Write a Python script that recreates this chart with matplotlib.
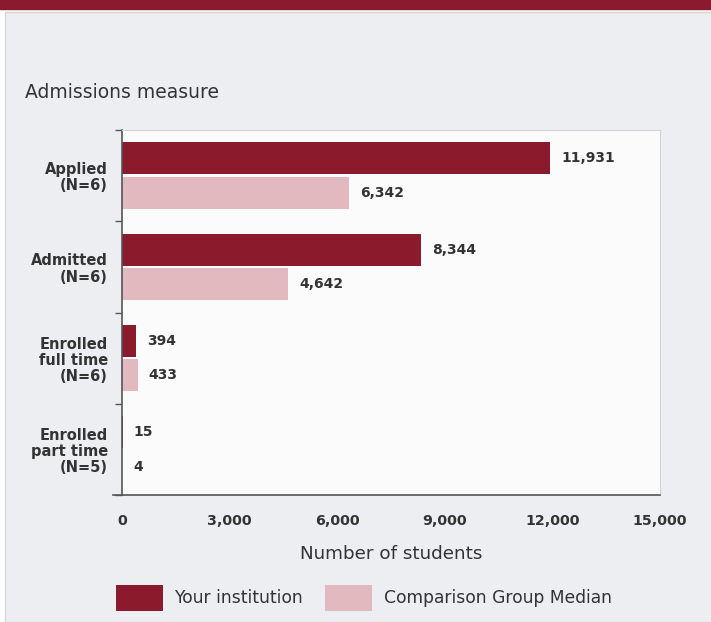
import matplotlib
matplotlib.use("Agg")
import matplotlib.pyplot as plt
import numpy as np
from matplotlib.patches import Rectangle

plt.rcParams['font.family'] = ['DejaVu Sans']

categories = ['Applied\n(N=6)', 'Admitted\n(N=6)', 'Enrolled\nfull time\n(N=6)', 'Enrolled\npart time\n(N=5)']
your_inst = [11931, 8344, 394, 15]
comp_median = [6342, 4642, 433, 4]
xticks = [0, 3000, 6000, 9000, 12000, 15000]

dark = '#8c1a2d'
light = '#e3b9c0'
text_col = '#333333'

fig = plt.figure(figsize=(7.11, 6.22), dpi=100)
fig.patch.set_facecolor('white')

# maroon band on top and the grey panel
fig.patches.append(Rectangle((0, 1 - 9/622), 1, 9/622, transform=fig.transFigure,
                             color='#8b1a2e', zorder=-10))
fig.patches.append(Rectangle((5/711, 0), 1, 1 - 12/622, transform=fig.transFigure,
                             facecolor='#eceef1', edgecolor='#d6d6d6', lw=1, zorder=-10))

ax = fig.add_axes([122/711, 1 - 495/622, 538/711, 365/622])
ax.set_facecolor('#fbfbfb')

y = np.arange(len(categories))
h = 0.35
off = 0.19
ax.barh(y - off, your_inst, height=h, color=dark, label='Your institution')
ax.barh(y + off, comp_median, height=h, color=light, label='Comparison Group Median')

for i in range(len(categories)):
    ax.annotate(f'{your_inst[i]:,}', (your_inst[i], y[i] - off), xytext=(8, 0),
                textcoords='offset points', va='center', ha='left',
                fontsize=10, fontweight='bold', color=text_col)
    ax.annotate(f'{comp_median[i]:,}', (comp_median[i], y[i] + off), xytext=(8, 0),
                textcoords='offset points', va='center', ha='left',
                fontsize=10, fontweight='bold', color=text_col)

ax.set_xlim(0, 15000)
ax.set_ylim(len(categories) - 0.5, -0.5)
ax.set_xticks(xticks)
ax.set_xticklabels([f'{v:,}' for v in xticks], fontsize=10.2, fontweight='bold', color=text_col)
ax.tick_params(axis='x', length=0, pad=14)

ax.set_yticks(y)
ax.set_yticklabels(categories, fontsize=10.5, fontweight='bold', color=text_col, linespacing=1.1)
ax.tick_params(axis='y', length=0, pad=10)
ax.set_yticks(np.arange(len(categories) + 1) - 0.5, minor=True)
ax.tick_params(axis='y', which='minor', length=5, width=1, color='#555555')

for s in ['top', 'right']:
    ax.spines[s].set_color('#d4d4d4')
for s in ['left', 'bottom']:
    ax.spines[s].set_color('#555555')
    ax.spines[s].set_linewidth(1.2)
ax.spines['bottom'].set_bounds(-260, 15000)

ax.set_xlabel('Number of students', fontsize=13.2, color=text_col, labelpad=12)

fig.text(25/711, 1 - 92/622, 'Admissions measure', fontsize=13.5, color=text_col, va='center')

fig.legend(loc='center', bbox_to_anchor=(364/711, 1 - 598/622), ncol=2, frameon=False,
           fontsize=12.3, handlelength=2.75, handleheight=2.0, handletextpad=0.7,
           columnspacing=1.3, labelcolor=text_col)

fig.savefig('out.png', dpi=100)
